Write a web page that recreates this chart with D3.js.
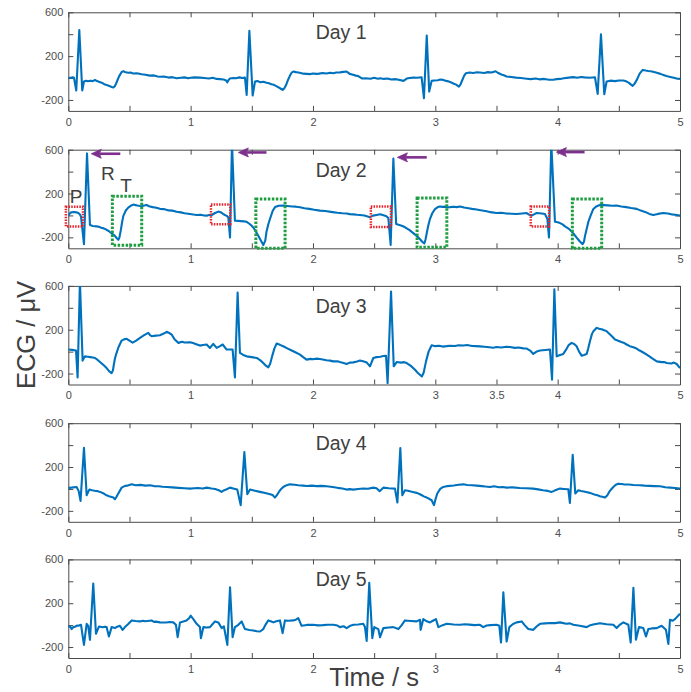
<!DOCTYPE html>
<html>
<head>
<meta charset="utf-8">
<script src="https://cdn.jsdelivr.net/npm/d3@7"></script>
<style>
  html, body { margin: 0; padding: 0; background: #fff; }
  svg { display: block; }
  text { font-family: "Liberation Sans", Arial, Helvetica, sans-serif; }
</style>
</head>
<body>
<svg id="chart" width="691" height="692"></svg>
<script>
// ---------------- data ----------------
const dayNames = ["Day 1", "Day 2", "Day 3", "Day 4", "Day 5"];

const xTicks = [0, 0.5, 1, 1.5, 2, 2.5, 3, 3.5, 4, 4.5, 5];
const xTickLabelsDefault = ["0", "", "1", "", "2", "", "3", "", "4", "", "5"];
const xTickLabelsDay3 = ["0", "", "1", "", "2", "", "3", "3.5", "4", "", "5"];
const yTicks = [-200, 0, 200, 400, 600];
const yTickLabels = ["-200", "", "200", "", "600"];
const yDomain = [-300, 600];
const xDomain = [0, 5];

// time (s), ECG (µV)
const day1 = [
  [0,5],[0.015,0],[0.03,6],[0.046,4],[0.065,-114],[0.09,439],[0.114,-114],[0.128,-32],[0.145,-25],[0.16,-30],
  [0.18,-24],[0.2,-28],[0.218,-18],[0.235,-28],[0.26,-38],[0.28,-46],[0.3,-60],[0.32,-66],[0.34,-74],
  [0.354,-82],[0.368,-87],[0.38,-75],[0.39,-52],[0.40,-25],[0.415,15],[0.436,56],[0.45,62],[0.47,52],
  [0.49,48],[0.51,50],[0.53,42],[0.56,44],[0.6,34],[0.63,30],[0.667,22],[0.7,24],[0.73,14],[0.75,12],
  [0.78,14],[0.82,4],[0.85,8],[0.886,-2],[0.92,2],[0.95,6],[0.98,-2],[1.0,2],[1.03,6],[1.076,4],[1.11,0],
  [1.15,-4],[1.18,2],[1.213,-8],[1.24,-10],[1.27,-14],[1.29,-22],[1.30,-39],[1.31,-18],[1.32,-5],
  [1.349,1],[1.37,-2],[1.40,6],[1.42,0],[1.444,4],[1.458,-154],[1.48,430],[1.507,-160],[1.526,-32],
  [1.545,-28],[1.57,-38],[1.595,-34],[1.62,-43],[1.64,-48],[1.66,-56],[1.68,-62],[1.70,-74],[1.72,-86],
  [1.74,-100],[1.752,-108],[1.765,-96],[1.78,-64],[1.795,-20],[1.81,18],[1.825,48],[1.839,60],[1.86,54],
  [1.88,50],[1.9,46],[1.92,40],[1.948,38],[1.98,36],[2.0,42],[2.03,38],[2.05,40],[2.08,46],[2.11,42],
  [2.14,48],[2.166,44],[2.19,50],[2.22,52],[2.25,56],[2.275,59],[2.29,48],[2.30,38],[2.32,32],[2.35,22],
  [2.37,18],[2.40,-4],[2.43,-2],[2.47,-6],[2.50,2],[2.53,-6],[2.55,-2],[2.58,-8],[2.61,-4],[2.64,-14],
  [2.67,-10],[2.70,-16],[2.74,-26],[2.755,-14],[2.766,-5],[2.79,0],[2.82,4],[2.85,2],[2.888,7],
  [2.907,-184],[2.93,387],[2.95,-124],[2.97,-26],[2.99,-22],[3.02,-20],[3.04,-14],[3.065,-17],[3.09,-26],
  [3.11,-32],[3.13,-40],[3.147,-50],[3.17,-60],[3.193,-78],[3.205,-60],[3.22,-20],[3.235,20],[3.25,44],
  [3.28,50],[3.31,46],[3.34,52],[3.365,50],[3.40,46],[3.43,54],[3.46,50],[3.493,62],[3.51,48],[3.54,32],
  [3.56,26],[3.583,14],[3.62,10],[3.66,4],[3.70,0],[3.747,-6],[3.78,-10],[3.82,-4],[3.85,-12],[3.89,-8],
  [3.93,-16],[3.965,-16],[3.99,-10],[4.02,-8],[4.05,-2],[4.09,4],[4.128,8],[4.16,2],[4.19,10],[4.22,6],
  [4.26,2],[4.305,7],[4.327,-145],[4.354,399],[4.381,-148],[4.40,-32],[4.43,-24],[4.47,-28],[4.50,-22],
  [4.537,-23],[4.56,-30],[4.58,-42],[4.60,-60],[4.613,-72],[4.63,-50],[4.65,-10],[4.67,40],[4.695,74],
  [4.72,68],[4.74,64],[4.76,62],[4.78,58],[4.81,48],[4.84,38],[4.87,26],[4.89,18],[4.92,10],[4.95,2],
  [4.98,-6],[5.0,-8]
];

const day2 = [
  [0,-2],[0.015,22],[0.027,29],[0.045,32],[0.065,28],[0.082,22],[0.095,8],[0.104,-11],[0.128,-263],
  [0.153,566],[0.177,-88],[0.2,-96],[0.232,-100],[0.25,-104],[0.27,-112],[0.29,-118],[0.313,-131],
  [0.33,-142],[0.35,-160],[0.365,-172],[0.381,-186],[0.395,-206],[0.409,-222],[0.418,-200],[0.43,-130],
  [0.44,-60],[0.45,-4],[0.47,45],[0.49,72],[0.51,88],[0.531,99],[0.55,94],[0.565,90],[0.585,86],[0.6,84],
  [0.62,90],[0.64,96],[0.66,84],[0.69,76],[0.72,70],[0.749,60],[0.78,58],[0.82,46],[0.85,44],[0.886,34],
  [0.92,28],[0.95,20],[0.98,16],[1.022,8],[1.05,4],[1.08,6],[1.11,0],[1.131,-2],[1.15,4],[1.172,4],
  [1.2,22],[1.226,35],[1.245,30],[1.265,14],[1.28,4],[1.295,-4],[1.308,-17],[1.322,-202],[1.338,660],
  [1.362,-48],[1.39,-50],[1.41,-52],[1.435,-54],[1.458,-58],[1.48,-76],[1.497,-92],[1.512,-110],
  [1.533,-146],[1.553,-186],[1.575,-232],[1.594,-270],[1.61,-230],[1.62,-150],[1.635,-80],[1.649,-30],
  [1.67,40],[1.69,76],[1.72,88],[1.757,90],[1.79,86],[1.83,82],[1.86,80],[1.894,74],[1.93,66],[1.97,60],
  [2.01,52],[2.057,44],[2.1,40],[2.16,30],[2.2,24],[2.24,20],[2.275,18],[2.3,12],[2.33,10],[2.36,6],
  [2.384,4],[2.42,0],[2.466,-16],[2.49,-2],[2.52,4],[2.55,10],[2.57,4],[2.588,-2],[2.6,-8],[2.616,-24],
  [2.635,-269],[2.657,520],[2.68,-79],[2.7,-86],[2.725,-94],[2.75,-106],[2.77,-120],[2.79,-134],
  [2.807,-150],[2.825,-166],[2.845,-185],[2.86,-200],[2.875,-217],[2.893,-240],[2.91,-256],[2.92,-220],
  [2.93,-160],[2.943,-90],[2.956,-33],[2.975,20],[2.997,58],[3.02,76],[3.038,82],[3.06,78],[3.08,80],
  [3.1,74],[3.12,76],[3.15,80],[3.175,76],[3.202,82],[3.235,72],[3.27,66],[3.3,60],[3.338,54],[3.37,48],
  [3.42,38],[3.45,30],[3.5,22],[3.54,24],[3.58,18],[3.62,16],[3.665,13],[3.71,18],[3.747,22],[3.765,8],
  [3.787,-2],[3.81,12],[3.828,22],[3.85,20],[3.87,18],[3.896,13],[3.916,-33],[3.929,-202],[3.948,660],
  [3.978,-57],[4.0,-62],[4.019,-70],[4.04,-82],[4.06,-100],[4.08,-114],[4.1,-131],[4.13,-166],
  [4.155,-202],[4.18,-236],[4.204,-262],[4.215,-240],[4.225,-180],[4.238,-120],[4.25,-62],[4.27,0],
  [4.29,56],[4.315,82],[4.345,96],[4.38,94],[4.41,92],[4.445,88],[4.482,90],[4.52,82],[4.56,76],
  [4.6,68],[4.646,60],[4.68,44],[4.72,30],[4.75,14],[4.782,4],[4.82,14],[4.864,22],[4.9,18],[4.93,10],
  [4.96,6],[5.0,-2]
];

const day3 = [
  [0,19],[0.03,16],[0.063,10],[0.076,-235],[0.095,640],[0.117,-82],[0.136,-43],[0.16,-46],[0.18,-50],
  [0.2,-54],[0.218,-58],[0.24,-76],[0.259,-95],[0.29,-125],[0.313,-150],[0.335,-180],[0.354,-196],
  [0.365,-170],[0.372,-120],[0.38,-70],[0.39,-27],[0.41,40],[0.436,101],[0.455,112],[0.477,117],
  [0.5,100],[0.526,82],[0.555,100],[0.586,126],[0.62,150],[0.654,172],[0.668,150],[0.681,141],
  [0.715,146],[0.749,150],[0.78,165],[0.804,181],[0.825,170],[0.845,156],[0.87,110],[0.9,80],
  [0.93,90],[0.95,84],[0.995,86],[1.02,78],[1.04,70],[1.076,55],[1.1,60],[1.131,65],[1.158,34],
  [1.185,71],[1.213,34],[1.24,50],[1.262,65],[1.294,19],[1.32,20],[1.343,19],[1.362,-235],[1.384,539],
  [1.403,-12],[1.43,-30],[1.458,-43],[1.5,-50],[1.54,-58],[1.57,-80],[1.594,-104],[1.615,-128],
  [1.635,-144],[1.65,-110],[1.67,-27],[1.685,30],[1.703,74],[1.73,62],[1.757,49],[1.79,30],[1.826,10],
  [1.86,-8],[1.894,-27],[1.92,-50],[1.948,-73],[1.98,-66],[2.0,-70],[2.03,-64],[2.057,-67],[2.09,-74],
  [2.11,-78],[2.14,-82],[2.166,-89],[2.2,-88],[2.22,-95],[2.25,-104],[2.275,-113],[2.3,-100],[2.33,-98],
  [2.36,-90],[2.384,-82],[2.41,-88],[2.44,-100],[2.466,-134],[2.493,-58],[2.52,-50],[2.55,-46],
  [2.575,-40],[2.597,-37],[2.61,-288],[2.638,548],[2.66,-134],[2.684,-95],[2.72,-100],[2.745,-96],
  [2.766,-104],[2.8,-130],[2.834,-165],[2.86,-198],[2.89,-227],[2.905,-190],[2.924,-89],[2.945,0],
  [2.97,58],[3.0,50],[3.03,54],[3.06,46],[3.093,50],[3.12,54],[3.16,52],[3.19,58],[3.229,56],[3.26,60],
  [3.3,52],[3.33,50],[3.365,48],[3.4,44],[3.44,40],[3.474,36],[3.5,42],[3.54,38],[3.58,44],[3.61,42],
  [3.65,34],[3.68,38],[3.72,30],[3.747,28],[3.775,10],[3.801,-21],[3.83,2],[3.856,10],[3.9,15],
  [3.937,19],[3.954,-257],[3.973,569],[3.992,-43],[4.02,-30],[4.046,-21],[4.07,20],[4.09,60],
  [4.114,80],[4.135,70],[4.155,49],[4.175,0],[4.196,-37],[4.215,-30],[4.237,-21],[4.25,30],[4.265,100],
  [4.28,160],[4.292,187],[4.319,217],[4.34,208],[4.36,205],[4.38,196],[4.4,187],[4.435,150],[4.469,110],
  [4.495,100],[4.52,88],[4.545,78],[4.564,65],[4.59,50],[4.619,40],[4.645,28],[4.67,10],[4.7,-8],
  [4.728,-27],[4.75,-44],[4.77,-60],[4.81,-89],[4.85,-96],[4.87,-94],[4.891,-104],[4.93,-108],
  [4.95,-100],[4.973,-113],[5.0,-150]
];

const day4 = [
  [0,12],[0.02,10],[0.04,14],[0.068,18],[0.085,-20],[0.1,-109],[0.128,376],[0.15,-58],[0.172,-6],
  [0.195,-12],[0.215,-16],[0.24,-20],[0.259,-27],[0.29,-42],[0.313,-58],[0.34,-70],[0.368,-79],
  [0.381,-94],[0.395,-70],[0.41,-40],[0.436,12],[0.46,26],[0.48,30],[0.518,42],[0.55,34],[0.59,37],
  [0.63,30],[0.668,33],[0.7,26],[0.74,25],[0.77,20],[0.804,18],[0.85,14],[0.9,10],[0.95,6],[0.995,3],
  [1.03,6],[1.06,8],[1.1,4],[1.131,12],[1.17,4],[1.2,0],[1.23,-12],[1.253,-27],[1.27,-14],[1.29,-5],
  [1.322,12],[1.355,2],[1.381,-6],[1.409,-148],[1.439,336],[1.463,-48],[1.485,-6],[1.525,-16],
  [1.567,-27],[1.61,-38],[1.649,-48],[1.67,-56],[1.689,-79],[1.705,-56],[1.72,-30],[1.74,0],[1.757,18],
  [1.78,32],[1.81,42],[1.85,38],[1.88,34],[1.92,30],[1.948,27],[1.99,30],[2.03,26],[2.07,28],[2.112,24],
  [2.16,18],[2.2,10],[2.24,4],[2.275,-6],[2.3,-2],[2.33,-6],[2.37,0],[2.41,4],[2.45,2],[2.493,12],
  [2.52,6],[2.545,-21],[2.56,-5],[2.575,12],[2.62,6],[2.67,3],[2.69,-124],[2.714,373],[2.73,-58],
  [2.752,-12],[2.775,-16],[2.8,-24],[2.825,-30],[2.848,-36],[2.87,-46],[2.89,-58],[2.91,-70],[2.93,-79],
  [2.95,-90],[2.97,-103],[2.989,-148],[3.0,-100],[3.016,-42],[3.04,0],[3.065,18],[3.1,26],[3.15,32],
  [3.19,38],[3.229,42],[3.26,36],[3.3,34],[3.34,30],[3.38,26],[3.41,22],[3.447,18],[3.48,24],[3.52,15],
  [3.55,18],[3.583,12],[3.63,14],[3.69,8],[3.74,6],[3.8,3],[3.84,-4],[3.88,-12],[3.92,-18],[3.95,-27],
  [3.97,-18],[3.985,-10],[4.019,3],[4.05,0],[4.087,-3],[4.1,-127],[4.123,312],[4.144,-42],[4.169,-12],
  [4.19,-18],[4.215,-24],[4.24,-30],[4.264,-36],[4.3,-50],[4.325,-58],[4.346,-67],[4.365,-72],
  [4.387,-79],[4.405,-60],[4.42,-30],[4.44,0],[4.455,18],[4.475,38],[4.496,48],[4.54,42],[4.58,40],
  [4.62,36],[4.673,33],[4.71,30],[4.75,28],[4.79,26],[4.837,24],[4.88,16],[4.92,12],[4.96,8],[5.0,3]
];

const day5 = [
  [0,-18],[0.015,-10],[0.027,-36],[0.04,-20],[0.055,-15],[0.07,-4],[0.082,-6],[0.104,3],[0.128,-180],
  [0.15,12],[0.163,-6],[0.177,-134],[0.204,380],[0.226,-79],[0.251,-12],[0.28,-20],[0.3,-14],
  [0.313,-18],[0.332,-104],[0.354,-18],[0.381,-27],[0.4,-14],[0.422,-6],[0.444,-43],[0.463,-18],
  [0.49,10],[0.518,43],[0.55,38],[0.586,34],[0.61,40],[0.63,36],[0.681,43],[0.7,30],[0.715,32],
  [0.749,25],[0.8,24],[0.83,28],[0.858,25],[0.88,3],[0.894,-110],[0.913,25],[0.94,34],[0.967,43],
  [0.985,60],[1.0,86],[1.025,50],[1.049,12],[1.076,-18],[1.084,-119],[1.104,-18],[1.13,-22],
  [1.158,-18],[1.18,10],[1.199,34],[1.226,25],[1.253,-27],[1.272,-12],[1.3,-180],[1.322,346],
  [1.343,-110],[1.362,-18],[1.39,3],[1.417,34],[1.444,-36],[1.48,-44],[1.512,-49],[1.54,-56],
  [1.567,-58],[1.594,-36],[1.615,10],[1.635,43],[1.655,36],[1.676,25],[1.7,36],[1.73,43],[1.752,-73],
  [1.771,43],[1.8,40],[1.839,43],[1.86,50],[1.88,64],[1.907,-6],[1.95,2],[2.003,3],[2.04,-2],[2.08,0],
  [2.12,4],[2.166,3],[2.2,-4],[2.22,-18],[2.25,-10],[2.275,-27],[2.3,-8],[2.33,3],[2.37,6],[2.411,12],
  [2.425,-18],[2.439,-144],[2.46,386],[2.485,-119],[2.501,-18],[2.534,-36],[2.548,-110],[2.575,-27],
  [2.62,-22],[2.657,-18],[2.698,-36],[2.725,0],[2.752,43],[2.8,38],[2.848,34],[2.875,49],[2.88,-43],
  [2.902,55],[2.93,35],[2.956,25],[2.98,40],[3.005,55],[3.025,-18],[3.06,0],[3.093,12],[3.15,6],
  [3.202,3],[3.24,8],[3.28,5],[3.32,0],[3.365,3],[3.392,-18],[3.42,-4],[3.45,0],[3.501,3],[3.523,-6],
  [3.537,-159],[3.556,300],[3.583,-150],[3.605,-18],[3.635,10],[3.665,25],[3.706,34],[3.73,0],
  [3.76,-36],[3.801,-43],[3.83,-10],[3.856,12],[3.9,16],[3.94,20],[3.98,18],[4.019,25],[4.07,12],
  [4.1,16],[4.128,3],[4.18,-6],[4.237,-18],[4.26,-4],[4.29,5],[4.346,18],[4.4,8],[4.455,3],[4.482,-27],
  [4.51,5],[4.537,25],[4.578,3],[4.597,-159],[4.619,340],[4.64,-134],[4.665,-18],[4.7,-27],[4.722,-104],
  [4.741,-36],[4.77,-30],[4.81,-27],[4.85,-6],[4.885,-43],[4.905,-171],[4.918,49],[4.94,40],[4.959,55],
  [4.98,80],[5.0,104]
];

const series = [day1, day2, day3, day4, day5];

// Day 2 annotations (data units)
const pBoxes = [[-0.02, 0.12, -100, 80], [1.166, 1.324, -80, 100], [2.473, 2.637, -105, 81], [3.78, 3.93, -100, 81]];
const tBoxes = [[0.36, 0.60, -272, 176], [1.533, 1.772, -300, 150], [2.851, 3.094, -290, 160], [4.12, 4.36, -300, 150]];
const arrows = [[0.425, 0.188, 563], [1.62, 1.39, 575], [2.93, 2.69, 530], [4.22, 3.99, 578]];
const waveLabels = [["P", 0.063, 114], ["R", 0.324, 323], ["T", 0.472, 214]];

// ---------------- drawing ----------------
const svg = d3.select("#chart");
const left = 68.3, right = 680;
const panelTops = [12.3, 149.7, 285.9, 423.2, 559.4];
const panelH = 98.6;

const x = d3.scaleLinear().domain(xDomain).range([left, right]);

const axisColor = "#4a4a4a";
const textColor = "#4d4d4d";
const lineColor = "#0072BD";
const arrowColor = "#7E2F8E";

const defs = svg.append("defs");

series.forEach((data, i) => {
  const top = panelTops[i];
  const y = d3.scaleLinear().domain(yDomain).range([top + panelH, top]);
  const g = svg.append("g");

  defs.append("clipPath").attr("id", "clip" + i)
    .append("rect").attr("x", left).attr("y", top).attr("width", right - left).attr("height", panelH);

  const labels = i === 2 ? xTickLabelsDay3 : xTickLabelsDefault;

  const gb = g.append("g").attr("transform", `translate(0,${top + panelH})`)
    .call(d3.axisBottom(x).tickValues(xTicks).tickSizeInner(-5).tickSizeOuter(0).tickPadding(7)
      .tickFormat((d, k) => labels[k]));
  const gt = g.append("g").attr("transform", `translate(0,${top})`)
    .call(d3.axisTop(x).tickValues(xTicks).tickSizeInner(-5).tickSizeOuter(0).tickFormat(""));
  const gl = g.append("g").attr("transform", `translate(${left},0)`)
    .call(d3.axisLeft(y).tickValues(yTicks).tickSizeInner(-5).tickSizeOuter(0).tickPadding(5)
      .tickFormat((d, k) => yTickLabels[k]));
  const gr = g.append("g").attr("transform", `translate(${right},0)`)
    .call(d3.axisRight(y).tickValues(yTicks).tickSizeInner(-5).tickSizeOuter(0).tickFormat(""));

  [gb, gt, gl, gr].forEach(ax => {
    ax.selectAll("path.domain").attr("stroke", axisColor).attr("stroke-width", 1);
    ax.selectAll(".tick line").attr("stroke", axisColor).attr("stroke-width", 1);
    ax.selectAll(".tick text").attr("fill", textColor).style("font-size", "11px")
      .style("font-family", '"Liberation Sans", Arial, sans-serif');
  });

  const line = d3.line().x(d => x(d[0])).y(d => y(d[1]));
  g.append("path").datum(data)
    .attr("clip-path", `url(#clip${i})`)
    .attr("fill", "none")
    .attr("stroke", lineColor)
    .attr("stroke-width", 2.1)
    .attr("stroke-linejoin", "round")
    .attr("d", line);

  g.append("text")
    .attr("x", x(2.23)).attr("y", top + 27)
    .attr("text-anchor", "middle")
    .attr("fill", "#404040")
    .style("font-size", "19.5px")
    .text(dayNames[i]);

  if (i === 1) {
    pBoxes.forEach(b => {
      g.append("rect")
        .attr("x", x(b[0])).attr("y", y(b[3]))
        .attr("width", x(b[1]) - x(b[0])).attr("height", y(b[2]) - y(b[3]))
        .attr("fill", "none").attr("stroke", "#E8222A").attr("stroke-width", 2.5)
        .attr("stroke-dasharray", "1.5,1.2");
    });
    tBoxes.forEach(b => {
      g.append("rect")
        .attr("x", x(b[0])).attr("y", y(b[3]))
        .attr("width", x(b[1]) - x(b[0])).attr("height", y(b[2]) - y(b[3]))
        .attr("fill", "none").attr("stroke", "#1E9E40").attr("stroke-width", 3)
        .attr("stroke-dasharray", "2.5,1.5");
    });
    arrows.forEach(a => {
      const tipX = x(a[1]), yy = y(a[2]);
      g.append("line")
        .attr("x1", x(a[0])).attr("y1", yy)
        .attr("x2", tipX + 8).attr("y2", yy)
        .attr("stroke", arrowColor).attr("stroke-width", 2.6);
      g.append("path")
        .attr("d", `M${tipX},${yy} L${tipX + 10},${yy - 4.5} L${tipX + 8},${yy} L${tipX + 10},${yy + 4.5} Z`)
        .attr("fill", arrowColor).attr("stroke", arrowColor).attr("stroke-width", 0.8)
        .attr("stroke-linejoin", "miter");
    });
    waveLabels.forEach(w => {
      g.append("text")
        .attr("x", x(w[1])).attr("y", y(w[2]))
        .attr("text-anchor", "middle")
        .attr("fill", "#404040")
        .style("font-size", "19px")
        .text(w[0]);
    });
  }
});

svg.append("text")
  .attr("transform", `translate(35,335) rotate(-90)`)
  .attr("text-anchor", "middle")
  .attr("fill", "#404040")
  .style("font-size", "25.5px")
  .text("ECG / μV");

svg.append("text")
  .attr("x", (left + right) / 2).attr("y", 686)
  .attr("text-anchor", "middle")
  .attr("fill", "#404040")
  .style("font-size", "25.5px")
  .text("Time / s");
</script>
</body>
</html>
